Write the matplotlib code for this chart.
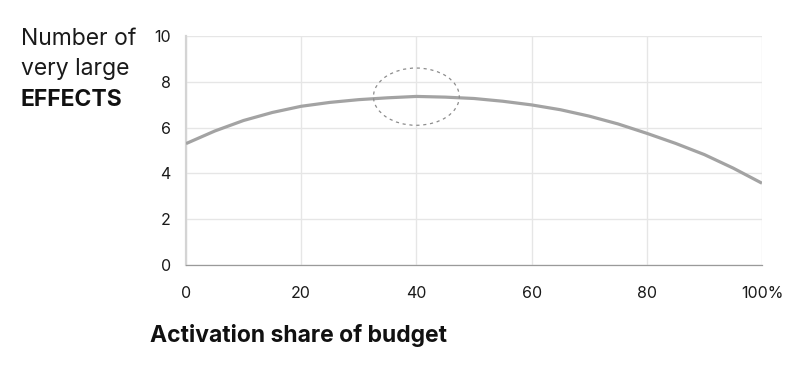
import numpy as np
import matplotlib
matplotlib.use("Agg")
import matplotlib.pyplot as plt
from matplotlib.patches import Ellipse

# ── Data ───────────────────────────────────────────────────────────────────
share = [0, 5, 10, 15, 20, 25, 30, 35, 40, 45, 50,
         55, 60, 65, 70, 75, 80, 85, 90, 95, 100]
effects = [5.3, 5.85, 6.31, 6.66, 6.93, 7.1, 7.22, 7.3, 7.36, 7.33, 7.27,
           7.15, 6.99, 6.78, 6.5, 6.16, 5.75, 5.31, 4.82, 4.23, 3.57]
x_ticks = [0, 20, 40, 60, 80, 100]
x_labels = ["0", "20", "40", "60", "80", "100%"]
y_ticks = [0, 2, 4, 6, 8, 10]
peak_x, peak_y = 40, 7.35

plt.rcParams["font.family"] = ["Inter", "DejaVu Sans"]

fig = plt.figure(figsize=(8.02, 3.66), dpi=100)
ax = fig.add_axes([0.2319, 0.276, 0.7182, 0.6257])

ax.plot(share, effects, color="#a3a3a3", linewidth=2.3,
        solid_capstyle="butt", solid_joinstyle="round", zorder=3)

# dashed ring around the peak
ax.add_patch(Ellipse((peak_x, peak_y), 14.9, 2.5, fill=False,
                     edgecolor="#8c8c8c", linewidth=0.9,
                     linestyle=(0, (2.5, 3)), zorder=4))

ax.set_xlim(0, 100)
ax.set_ylim(0, 10)
ax.set_xticks(x_ticks)
ax.set_xticklabels(x_labels)
ax.set_yticks(y_ticks)
ax.tick_params(length=0, labelsize=11.5, colors="#1a1a1a")
ax.tick_params(axis="x", pad=15)
ax.tick_params(axis="y", pad=11)

ax.grid(True, color="#e6e6e6", linewidth=1.0, zorder=0)
for side in ["top", "right"]:
    ax.spines[side].set_visible(False)
ax.spines["left"].set_color("#d4d4d4")
ax.spines["left"].set_linewidth(1.6)
ax.spines["bottom"].set_color("#9a9a9a")
ax.spines["bottom"].set_linewidth(0.9)
ax.set_axisbelow(True)

# y-axis title, stacked at top left
fig.text(21 / 802, 1 - 45 / 366, "Number of", fontsize=16.5,
         color="#1a1a1a", va="baseline")
fig.text(21 / 802, 1 - 75 / 366, "very large", fontsize=16.5,
         color="#1a1a1a", va="baseline")
fig.text(21 / 802, 1 - 106 / 366, "EFFECTS", fontsize=16.5,
         fontweight="bold", color="#111111", va="baseline")

fig.text(150 / 802, 1 - 342 / 366, "Activation share of budget",
         fontsize=16.5, fontweight="bold", color="#111111", va="baseline")

fig.savefig("out.png", dpi=100, facecolor="white")
